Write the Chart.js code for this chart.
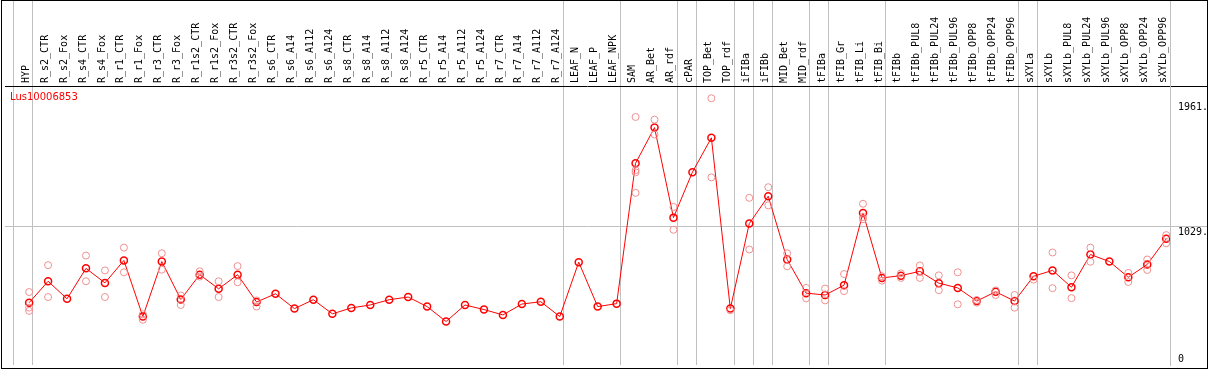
<!DOCTYPE html>
<html>
<head>
<meta charset="utf-8">
<script src="https://cdn.jsdelivr.net/npm/chart.js@4/dist/chart.umd.min.js"></script>
<style>
  body { margin: 0; background: #fff; }
  #wrap { position: relative; width: 1209px; height: 370px; }
  #frame { position: absolute; left: 1px; top: 0; width: 1207px; height: 369px; box-sizing: border-box; border: 1px solid #000; pointer-events: none; }
  #gene { position: absolute; left: 10px; top: 91px; font: 10px "DejaVu Sans"; line-height: 12px; color: #ff0000; }
</style>
</head>
<body>
<div id="wrap">
  <canvas id="myChart" width="1209" height="370"></canvas>
  <div id="gene">Lus10006853</div>
  <div id="frame"></div>
</div>
<script>
// categories (tissues / treatments)
const categories = ["HYP","R_s2_CTR","R_s2_Fox","R_s4_CTR","R_s4_Fox","R_r1_CTR","R_r1_Fox","R_r3_CTR","R_r3_Fox",
  "R_r1s2_CTR","R_r1s2_Fox","R_r3s2_CTR","R_r3s2_Fox","R_s6_CTR","R_s6_A14","R_s6_A112","R_s6_A124",
  "R_s8_CTR","R_s8_A14","R_s8_A112","R_s8_A124","R_r5_CTR","R_r5_A14","R_r5_A112","R_r5_A124",
  "R_r7_CTR","R_r7_A14","R_r7_A112","R_r7_A124","LEAF_N","LEAF_P","LEAF_NPK","SAM","AR_Bet","AR_rdf",
  "cPAR","TOP_Bet","TOP_rdf","iFIBa","iFIBb","MID_Bet","MID_rdf","tFIBa","tFIB_Gr","tFIB_Li","tFIB_Bi",
  "tFIBb","tFIBb_PUL8","tFIBb_PUL24","tFIBb_PUL96","tFIBb_OPP8","tFIBb_OPP24","tFIBb_OPP96","sXYLa",
  "sXYLb","sXYLb_PUL8","sXYLb_PUL24","sXYLb_PUL96","sXYLb_OPP8","sXYLb_OPP24","sXYLb_OPP96"];

// mean expression
const means = [463,622,492,718,610,777,360,769,487,671,566,671,468,529,419,485,380,424,446,485,505,434,323,446,412,
  372,453,470,360,764,434,456,1499,1764,1095,1433,1688,419,1051,1254,784,534,520,593,1130,647,664,696,608,573,
  475,544,475,659,703,578,821,769,652,747,938];

// replicates
const rep1 = [542,742,null,813,703,872,336,830,517,696,622,735,480,
  null,null,null,null,null,null,null,null,null,null,null,null,null,null,null,null,null,null,null,
  1843,1823,1174,null,1982,407,1242,1321,830,573,568,676,1198,627,681,740,666,689,483,554,520,634,836,666,872,null,684,784,965];
const rep2 = [426,505,null,622,505,689,377,708,446,657,505,615,434,
  null,null,null,null,null,null,null,null,null,null,null,null,null,null,null,null,null,null,null,
  1448,1713,1005,null,1394,null,858,1186,733,495,480,549,1100,659,647,647,556,451,463,520,426,null,571,497,767,null,617,706,904];
const rep3 = [402,null,null,null,null,null,null,null,null,null,null,null,null,
  null,null,null,null,null,null,null,null,null,null,null,null,null,null,null,null,null,null,null,
  1431,null,null,null,null,null,null,null,null,null,null,null,1083,null,null,null,null,null,null,null,null,null,null,null,null,null,null,null,null];
const rep4 = [null,null,null,null,null,null,null,null,null,null,null,null,null,
  null,null,null,null,null,null,null,null,null,null,null,null,null,null,null,null,null,null,null,
  1279,null,null,null,null,null,null,null,null,null,null,null,null,null,null,null,null,null,null,null,null,null,null,null,null,null,null,null,null];

// last category of each group (separator lines drawn after them)
const groupEnds = [-1,0,28,31,34,35,37,38,39,41,42,45,52,53,60];
const yTicks = [0,1029,1961];
const yTop = 2073;

const GRAY = '#c0c0c0';
const sepOff = 0.2;

function toPoints(arr) {
  const pts = [];
  arr.forEach((v, i) => { if (v != null) pts.push({x: i, y: v}); });
  return pts;
}

const repSets = [rep1, rep2, rep3, rep4].map(r => ({
  data: toPoints(r),
  showLine: false,
  pointRadius: 3.5,
  pointBorderWidth: 1,
  pointBorderColor: '#ef9090',
  pointBackgroundColor: 'rgba(0,0,0,0)',
  pointHoverRadius: 3.5
}));

const ctx = document.getElementById('myChart').getContext('2d');
const myChart = new Chart(ctx, {
  type: 'scatter',
  data: {
    datasets: repSets.concat([{
      data: toPoints(means),
      showLine: true,
      borderColor: '#ff0000',
      borderWidth: 1,
      pointRadius: 3.5,
      pointBorderWidth: 1.5,
      pointBorderColor: '#ff0000',
      pointBackgroundColor: 'rgba(0,0,0,0)',
      pointHoverRadius: 3.5
    }])
  },
  options: {
    responsive: false,
    animation: false,
    layout: { padding: { left: 2, right: 2, top: 0, bottom: 2 } },
    plugins: { legend: { display: false }, tooltip: { enabled: false } },
    scales: {
      x: {
        type: 'linear',
        position: 'top',
        min: 60 + sepOff - 1168 / 19,
        max: 60 + sepOff,
        afterBuildTicks: s => {
          const t = categories.map((c, i) => ({ value: i }));
          groupEnds.forEach(g => t.push({ value: g + sepOff }));
          s.ticks = t;
        },
        afterFit: s => { s.height = 86; },
        ticks: {
          autoSkip: false,
          minRotation: 90,
          maxRotation: 90,
          padding: -83,
          labelOffset: 9,
          color: '#000',
          font: { family: 'DejaVu Sans Mono', size: 10 },
          callback: v => Number.isInteger(v) ? categories[v] : ''
        },
        grid: {
          color: c => (c.tick && !Number.isInteger(c.tick.value)) ? GRAY : 'rgba(0,0,0,0)',
          tickLength: 86,
          lineWidth: 1
        },
        border: { display: false }
      },
      y: {
        position: 'right',
        min: 0,
        max: yTop,
        afterBuildTicks: s => { s.ticks = yTicks.concat([yTop]).map(v => ({ value: v })); },
        afterFit: s => { s.width = 37; },
        ticks: {
          padding: -29,
          color: '#000',
          font: { family: 'DejaVu Sans Mono', size: 10, lineHeight: 1.2 },
          callback: v => v === 0 ? ['0', ''] : (v === yTop ? '' : ['', v + '.'])
        },
        grid: {
          color: c => {
            if (!c.tick) return 'rgba(0,0,0,0)';
            if (c.tick.value === yTop) return '#000';
            if (c.tick.value === 1029) return GRAY;
            return 'rgba(0,0,0,0)';
          },
          tickLength: 37,
          lineWidth: 1
        },
        border: { display: true, color: GRAY }
      }
    }
  }
});
</script>
</body>
</html>
